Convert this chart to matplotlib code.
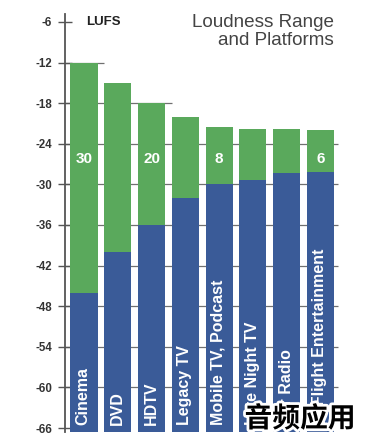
import matplotlib
matplotlib.use("Agg")
import matplotlib.pyplot as plt
import matplotlib.patheffects as pe
import numpy as np

# ---- data ----
categories = ["Cinema", "DVD", "HDTV", "Legacy TV", "Mobile TV, Podcast",
              "Late Night TV", "Car Radio", "In-Flight Entertainment"]
range_top = [-12, -15, -18, -20, -21.5, -21.8, -21.8, -22]      # upper loudness (green top)
range_bottom = [-46, -40, -36, -32, -30, -29.4, -28.3, -28.1]   # lower loudness (blue top)
range_labels = {0: "30", 2: "20", 4: "8", 7: "6"}
yticks = [-6, -12, -18, -24, -30, -36, -42, -48, -54, -60, -66]
grid_levels = [-12, -18, -24, -30, -36, -42, -48, -54, -60]
title_lines = ["Loudness Range", "and Platforms"]
unit_label = "LUFS"
watermark = "音频应用"

GREEN = "#5aa95c"
BLUE = "#3a5b98"
TXT = "#333333"

plt.rcParams['font.family'] = ['Liberation Sans', 'DejaVu Sans']

W, H = 373, 445
fig = plt.figure(figsize=(W / 100, H / 100), dpi=100)
ax = fig.add_axes([65 / W, 13 / H, 280 / W, 418 / H])

YMIN, YMAX = -66.59, -4.82
XMIN, XMAX = -0.562, 7.724
ax.set_xlim(XMIN, XMAX)
ax.set_ylim(YMIN, YMAX)

x = np.arange(len(categories))
bw = 0.8

# gridlines: extend until the first bar whose top is below the level
for lvl in grid_levels:
    xend = 7.51
    for i, t in enumerate(range_top):
        if t < lvl:
            xend = i - bw / 2
            break
    ax.hlines(lvl, XMIN, xend, color="#707070", lw=0.9, zorder=1)

blue_h = [b - YMIN for b in range_bottom]
green_h = [t - b for t, b in zip(range_top, range_bottom)]
ax.bar(x, blue_h, bottom=YMIN, width=bw, color=BLUE, zorder=2)
ax.bar(x, green_h, bottom=range_bottom, width=bw, color=GREEN, zorder=2)

for i, s in range_labels.items():
    ax.text(x[i], -26.25, s, color="white", fontsize=11, fontweight="bold",
            ha="center", va="center", zorder=3)

for i, c in enumerate(categories):
    ax.text(x[i] - 0.02, -65.6, c, rotation=90, color="white", fontsize=11.5,
            fontweight="bold", ha="center", va="bottom", zorder=3)

# axes styling
for s in ["top", "right", "bottom"]:
    ax.spines[s].set_visible(False)
ax.spines["left"].set_color("#555555")
ax.spines["left"].set_linewidth(1.3)
ax.set_xticks([])
ax.set_yticks(yticks)
ax.set_yticklabels([str(v) for v in yticks])
ax.tick_params(axis="y", direction="inout", length=9.4, width=1.0,
               color="#555555", pad=4.5, labelsize=8.3, labelcolor=TXT)
for lab in ax.get_yticklabels():
    lab.set_fontweight("bold")

ax.text(0.05, -6, unit_label, fontsize=9.5, fontweight="bold", color="#222222",
        ha="left", va="center", zorder=3)

fig.text(333.5 / W, 1 - 27.3 / H, title_lines[0], fontsize=13.6, color="#444444",
         ha="right", va="baseline")
fig.text(333.5 / W, 1 - 45.2 / H, title_lines[1], fontsize=13.6, color="#444444",
         ha="right", va="baseline")

fig.text(300 / W, 1 - 419 / H, watermark, fontsize=20, fontweight="bold",
         family=["Noto Sans CJK SC", "DejaVu Sans"], color="black",
         ha="center", va="center", zorder=10,
         path_effects=[pe.withStroke(linewidth=4, foreground="white")])

fig.savefig("out.png", dpi=100)
